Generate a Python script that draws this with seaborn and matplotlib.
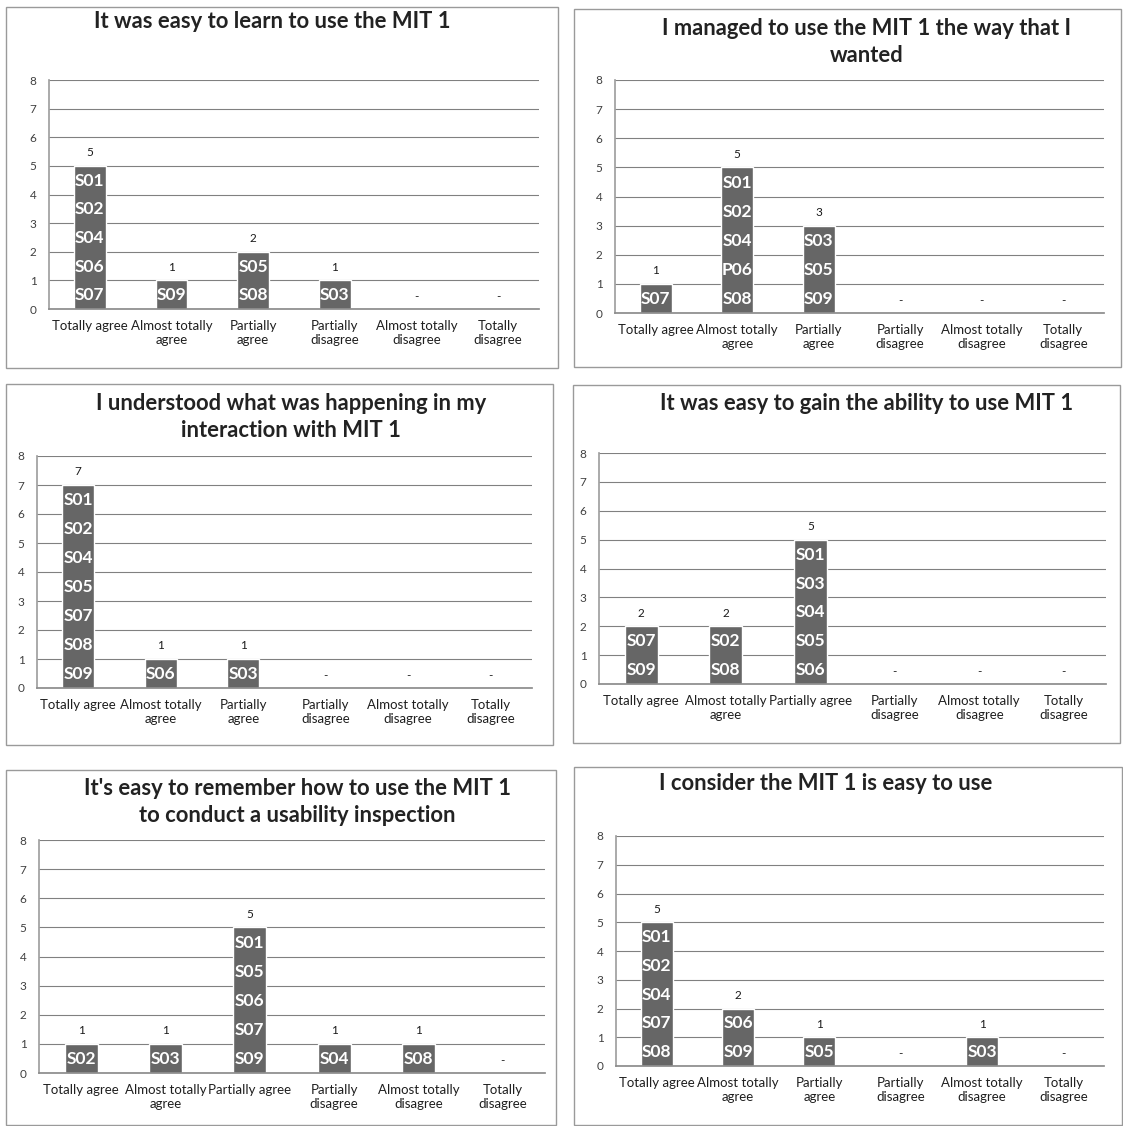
import matplotlib
matplotlib.use("Agg")
import matplotlib.pyplot as plt
import seaborn as sns
import pandas as pd
from matplotlib.patches import Rectangle

# ---------------- data ----------------
categories = ["Totally agree", "Almost totally agree", "Partially agree",
              "Partially disagree", "Almost totally disagree", "Totally disagree"]

tick_labels_a = ["Totally agree", "Almost totally\nagree", "Partially\nagree",
                 "Partially\ndisagree", "Almost totally\ndisagree", "Totally\ndisagree"]
tick_labels_b = ["Totally agree", "Almost totally\nagree", "Partially agree",
                 "Partially\ndisagree", "Almost totally\ndisagree", "Totally\ndisagree"]

titles = [
    "It was easy to learn to use the MIT 1",
    "I managed to use the MIT 1 the way that I\nwanted",
    "I understood what was happening in my\ninteraction with MIT 1",
    "It was easy to gain the ability to use MIT 1",
    "It's easy to remember how to use the MIT 1\nto conduct a usability inspection",
    "I consider the MIT 1 is easy to use",
]

counts_1 = [5, 1, 2, 1, 0, 0]
counts_2 = [1, 5, 3, 0, 0, 0]
counts_3 = [7, 1, 1, 0, 0, 0]
counts_4 = [2, 2, 5, 0, 0, 0]
counts_5 = [1, 1, 5, 1, 1, 0]
counts_6 = [5, 2, 1, 0, 1, 0]

members_1 = [["S01", "S02", "S04", "S06", "S07"], ["S09"], ["S05", "S08"], ["S03"], [], []]
members_2 = [["S07"], ["S01", "S02", "S04", "P06", "S08"], ["S03", "S05", "S09"], [], [], []]
members_3 = [["S01", "S02", "S04", "S05", "S07", "S08", "S09"], ["S06"], ["S03"], [], [], []]
members_4 = [["S07", "S09"], ["S02", "S08"], ["S01", "S03", "S04", "S05", "S06"], [], [], []]
members_5 = [["S02"], ["S03"], ["S01", "S05", "S06", "S07", "S09"], ["S04"], ["S08"], []]
members_6 = [["S01", "S02", "S04", "S07", "S08"], ["S06", "S09"], ["S05"], [], ["S03"], []]

yticks = [0, 1, 2, 3, 4, 5, 6, 7, 8]

# ---------------- layout (pixels) ----------------
W, H = 1123, 1126
panels = [
    dict(ax=(49, 539, 80, 309), box=(6, 558, 7, 368), t=(272, 22), tl=tick_labels_a,
         c=counts_1, m=members_1),
    dict(ax=(615, 1104, 80, 313), box=(574, 1121, 9, 367), t=(867, 42), tl=tick_labels_a,
         c=counts_2, m=members_2),
    dict(ax=(37, 532, 456, 688), box=(6, 553, 384, 745), t=(291, 417), tl=tick_labels_a,
         c=counts_3, m=members_3),
    dict(ax=(599, 1106, 453, 684), box=(573, 1120, 385, 743), t=(867, 403), tl=tick_labels_b,
         c=counts_4, m=members_4),
    dict(ax=(39, 545, 840, 1073), box=(6, 556, 770, 1125), t=(297, 802), tl=tick_labels_b,
         c=counts_5, m=members_5),
    dict(ax=(616, 1104, 836, 1066), box=(574, 1122, 767, 1125), t=(826, 783), tl=tick_labels_a,
         c=counts_6, m=members_6),
]

sns.set_theme(style="white")
plt.rcParams['font.family'] = ['Lato', 'DejaVu Sans']

fig = plt.figure(figsize=(W / 100, H / 100), dpi=100)
fig.patch.set_facecolor("white")

bar_color = "#666666"
grid_color = "#808080"

for p, title in zip(panels, titles):
    x0, x1, yt, yb = p["ax"]
    ax = fig.add_axes([x0 / W, 1 - yb / H, (x1 - x0) / W, (yb - yt) / H])
    df = pd.DataFrame({"category": categories, "count": p["c"]})
    sns.barplot(data=df, x="category", y="count", order=categories, color=bar_color,
                saturation=1, width=0.39, ax=ax, zorder=2)
    ax.set_xlim(-0.5, 5.5)
    ax.set_ylim(0, 8)
    ax.set_yticks(yticks)
    ax.set_xlabel("")
    ax.set_ylabel("")
    ax.set_xticks(range(len(categories)))
    ax.set_xticklabels(p["tl"], fontsize=9.5, color="#1f1f1f")
    ax.set_xticks([i - 0.5 for i in range(len(categories) + 1)], minor=True)
    ax.tick_params(axis="x", which="major", length=0, pad=8)
    ax.tick_params(axis="x", which="minor", length=5, color="#8c8c8c", width=1)
    ax.tick_params(axis="y", length=5, color="#8c8c8c", labelsize=8.5, labelcolor="#404040", pad=4)
    ax.yaxis.grid(True, color=grid_color, lw=0.8)
    ax.xaxis.grid(False)
    ax.set_axisbelow(True)
    for s in ["top", "right"]:
        ax.spines[s].set_visible(False)
    ax.spines["left"].set_color("#a0a0a0")
    ax.spines["bottom"].set_color("#8c8c8c")
    ax.patch.set_alpha(0)

    for i, (n, names) in enumerate(zip(p["c"], p["m"])):
        for j, name in enumerate(names):
            ax.text(i, n - j - 0.52, name, color="white", fontweight="bold", fontsize=12.5,
                    ha="center", va="center", zorder=3)
        if n > 0:
            ax.text(i, n + 0.45, str(n), color="#1a1a1a", fontsize=8.5, ha="center", va="center")
        else:
            ax.text(i, 0.42, "-", color="#1a1a1a", fontsize=8.5, ha="center", va="center")

    tx, ty = p["t"]
    fig.text(tx / W, 1 - ty / H, title, ha="center", va="center", fontsize=15.8,
             fontweight="bold", color="#222222", linespacing=1.35)

    bx0, bx1, by0, by1 = p["box"]
    fig.add_artist(Rectangle((bx0 / W, 1 - by1 / H), (bx1 - bx0) / W, (by1 - by0) / H,
                             transform=fig.transFigure, fill=False, edgecolor="#9a9a9a",
                             lw=1.0))

fig.savefig("out.png", dpi=100, facecolor="white")
